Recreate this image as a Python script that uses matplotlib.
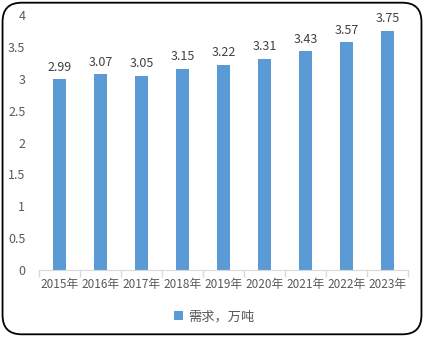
import matplotlib
matplotlib.use("Agg")
import matplotlib.pyplot as plt
from matplotlib.patches import FancyBboxPatch

plt.rcParams['font.family'] = ['Noto Sans CJK SC', 'DejaVu Sans']

years = ["2015年", "2016年", "2017年", "2018年", "2019年", "2020年", "2021年", "2022年", "2023年"]
demand = [2.99, 3.07, 3.05, 3.15, 3.22, 3.31, 3.43, 3.57, 3.75]
series_name = "需求，万吨"

BAR = "#5B9BD5"
TXT = "#595959"

fig = plt.figure(figsize=(4.24, 3.37), dpi=100)
ax = fig.add_axes([0.0927, 0.1988, 0.870, 0.7567])

x = range(len(years))
bars = ax.bar(x, demand, width=0.32, color=BAR, label=series_name, zorder=2)
for b, v in zip(bars, demand):
    ax.text(b.get_x() + b.get_width() / 2, v + 0.09, f"{v:.2f}", ha="center", va="bottom",
            fontsize=9, color="#404040")

ax.set_xlim(-0.5, len(years) - 0.5)
ax.set_ylim(0, 4)
ax.set_yticks([0, 0.5, 1, 1.5, 2, 2.5, 3, 3.5, 4])
ax.set_yticklabels(["0", "0.5", "1", "1.5", "2", "2.5", "3", "3.5", "4"])
ax.set_xticks(list(x))
ax.set_xticklabels(years)
ax.tick_params(axis="y", length=0, labelsize=9, labelcolor=TXT, pad=10)
ax.tick_params(axis="x", length=0, labelsize=8.5, labelcolor=TXT, pad=6)
# category separators on the x axis
ax.set_xticks([i - 0.5 for i in range(len(years) + 1)], minor=True)
ax.tick_params(axis="x", which="minor", length=5, color="#D9D9D9", width=1)
for s in ["top", "right", "left"]:
    ax.spines[s].set_visible(False)
ax.spines["bottom"].set_color("#D9D9D9")

leg = fig.legend(handles=[bars], labels=[series_name], loc="center",
                 bbox_to_anchor=(0.505, 0.06), frameon=False, fontsize=9.5,
                 handlelength=0.7, handleheight=0.7, handletextpad=0.4)
for t in leg.get_texts():
    t.set_color(TXT)

border = FancyBboxPatch((0.006, 0.008), 0.988, 0.984, boxstyle="round,pad=0,rounding_size=0.045",
                        transform=fig.transFigure, fill=False, edgecolor="black", linewidth=1.3,
                        mutation_aspect=424 / 337)
fig.patches.append(border)

fig.savefig("out.png", dpi=100)
